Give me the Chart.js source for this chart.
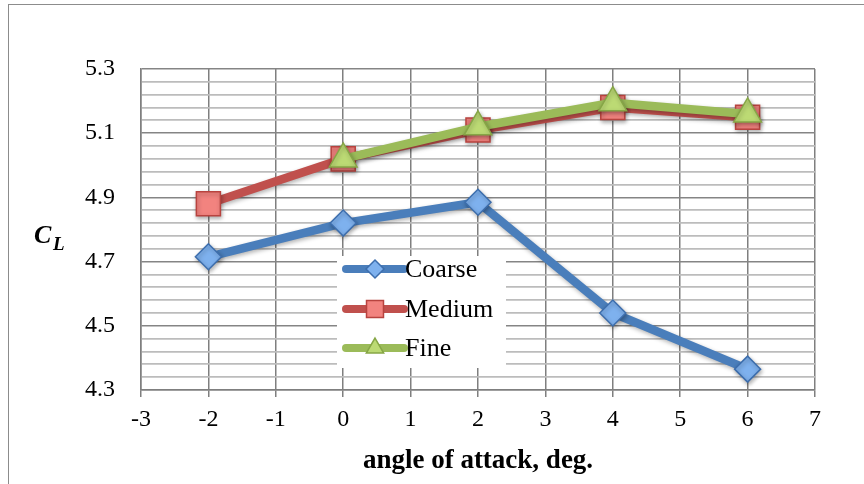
<!DOCTYPE html>
<html>
<head>
<meta charset="utf-8">
<script src="https://cdn.jsdelivr.net/npm/chart.js@4.4.1/dist/chart.umd.min.js"></script>
<style>
  html, body { margin: 0; padding: 0; background: #fff; overflow: hidden; }
  #wrap { position: relative; width: 864px; height: 484px; }
  #frame { position: absolute; left: 8px; top: 4px; width: 900px; height: 520px; border-left: 1.5px solid #8c8c8c; border-top: 1.5px solid #8c8c8c; pointer-events: none; }
  canvas { position: absolute; left: 0; top: 0; }
</style>
</head>
<body>
<div id="wrap">
  <canvas id="clChart" width="864" height="484"></canvas>
  <div id="frame"></div>
</div>
<script>
/* Lift coefficient vs angle of attack — grid study */
const angles = [-2, 0, 2, 4, 6];
const coarseCL = [4.715, 4.82, 4.885, 4.54, 4.365];
const mediumCL = [4.88, 5.02, 5.11, 5.18, 5.15];
const fineAngles = [0, 2, 4, 6];
const fineCL = [5.02, 5.12, 5.195, 5.16];
const seriesNames = ['Coarse', 'Medium', 'Fine'];
const xTitle = 'angle of attack, deg.';

const serif = '"Liberation Serif", "Times New Roman", serif';
const styles = [
    { line: '#4a7ebb', fill: '#7eb1ee', border: '#3d6ead', pointStyle: 'rectRot', radius: 13 },
    { line: '#c0504d', fill: '#f2837f', border: '#b8433f', pointStyle: 'rect', radius: 17 },
    { line: '#9bbb59', fill: '#bcda74', border: '#86a646', pointStyle: 'triangle', radius: 16 }
];

const toPts = (xs, ys) => xs.map((x, i) => ({ x, y: ys[i] }));
const mk = (i, data, order) => ({
    label: seriesNames[i], data, order,
    borderColor: styles[i].line, borderWidth: 8.5, borderCapStyle: 'round', borderJoinStyle: 'round',
    pointStyle: styles[i].pointStyle, pointRadius: styles[i].radius, pointHoverRadius: styles[i].radius,
    pointBackgroundColor: styles[i].fill, pointBorderColor: styles[i].border, pointBorderWidth: 1.5,
    tension: 0, fill: false
});

const isMajor = v => Math.abs((v - 4.3) / 0.2 - Math.round((v - 4.3) / 0.2)) < 1e-6;

// drop shadow under lines/markers, like the office chart style
const shadowPlugin = {
    id: 'shadow',
    beforeDatasetsDraw(chart) { const c = chart.ctx; c.save(); c.shadowColor = 'rgba(0,0,0,0.3)'; c.shadowBlur = 4; c.shadowOffsetX = 1; c.shadowOffsetY = 2; },
    afterDatasetsDraw(chart) { chart.ctx.restore(); }
};

// boxed legend inside plot + the C_L axis label
const extrasPlugin = {
    id: 'extras',
    afterDraw(chart) {
        const c = chart.ctx;
        c.save();
        c.fillStyle = '#fff';
        c.fillRect(337, 256, 169, 112);
        const rows = [269, 309, 348];
        rows.forEach((y, i) => {
            const s = styles[i];
            c.strokeStyle = s.line; c.lineWidth = 8; c.lineCap = 'round';
            c.beginPath(); c.moveTo(346, y); c.lineTo(404, y); c.stroke();
            c.fillStyle = s.fill; c.strokeStyle = s.border; c.lineWidth = 1.5;
            const r = i === 0 ? 9 : (i === 1 ? 12 : 10);
            Chart.helpers.drawPoint(c, { pointStyle: s.pointStyle, radius: r, borderWidth: 1.5, rotation: 0 }, 375, y);
            c.fillStyle = '#000'; c.font = `26px ${serif}`; c.textBaseline = 'middle'; c.textAlign = 'left';
            c.fillText(seriesNames[i], 405, y + 1);
        });
        c.fillStyle = '#000'; c.textBaseline = 'alphabetic';
        c.font = `bold italic 26px ${serif}`;
        c.fillText('C', 34, 243);
        c.font = `bold italic 19px ${serif}`;
        c.fillText('L', 53, 250);
        c.restore();
    }
};

new Chart(document.getElementById('clChart'), {
    type: 'line',
    data: { datasets: [mk(0, toPts(angles, coarseCL), 2), mk(1, toPts(angles, mediumCL), 1), mk(2, toPts(fineAngles, fineCL), 0)] },
    options: {
        responsive: false, animation: false, events: [],
        layout: { padding: { left: 0, top: 69, right: 49, bottom: 0 } },
        plugins: { legend: { display: false }, tooltip: { enabled: false } },
        scales: {
            x: {
                type: 'linear', min: -3, max: 7,
                afterFit: s => { s.height = 94; },
                ticks: { stepSize: 1, color: '#000', font: { family: serif, size: 24 }, padding: 8 },
                grid: { color: '#7f7f7f', lineWidth: 1.5, tickLength: 7, tickColor: '#7f7f7f' },
                border: { color: '#7f7f7f', width: 1.5 },
                title: { display: true, text: xTitle, color: '#000', font: { family: serif, size: 27, weight: 'bold' }, padding: { top: 0, bottom: 7 } }
            },
            y: {
                min: 4.3, max: 5.3,
                afterFit: s => { s.width = 141; },
                ticks: { stepSize: 0.04, color: '#000', font: { family: serif, size: 24 }, padding: 26, autoSkip: false,
                    callback: v => isMajor(v) ? v.toFixed(1) : '' },
                grid: { drawTicks: false,
                    color: ctx => isMajor(ctx.tick.value) ? '#858585' : '#bcbcbc',
                    lineWidth: ctx => isMajor(ctx.tick.value) ? 1.5 : 1.8 },
                border: { color: '#7f7f7f', width: 1.5 }
            }
        }
    },
    plugins: [shadowPlugin, extrasPlugin]
});
</script>
</body>
</html>
